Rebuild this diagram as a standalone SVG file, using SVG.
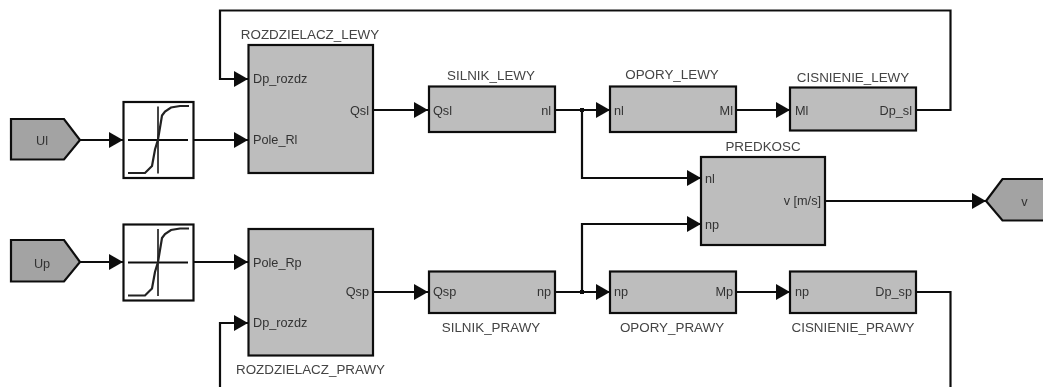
<svg xmlns="http://www.w3.org/2000/svg" width="1043" height="387" viewBox="0 0 1043 387">
<defs>
<filter id="s" filterUnits="userSpaceOnUse" x="0" y="0" width="1043" height="387"><feGaussianBlur stdDeviation="0.3"/></filter>
<marker id="a" markerUnits="userSpaceOnUse" markerWidth="14" markerHeight="16" refX="14" refY="8" orient="auto"><path d="M0 0L14 8L0 16Z" fill="#111"/></marker>
<g id="sat"><rect x="0.5" y="0.5" width="70" height="76" fill="#fff" stroke="#111" stroke-width="2.200"/><path d="M5 38.500H65" fill="none" stroke="#111" stroke-width="2.200"/><path d="M35 5V72" fill="none" stroke="#444" stroke-width="2"/><path d="M5 71.500H22L29 64.500L32 48L35 38L39 14L42 10L48 6L57 4.500H66" fill="none" stroke="#222" stroke-width="2.200"/></g>
</defs>
<style>
text{font-family:"Liberation Sans",Arial,sans-serif;font-size:12.700px;fill:#333}
.t{font-size:13.400px;fill:#444}
.m{text-anchor:middle}.e{text-anchor:end}
.b{fill:#bdbdbd;stroke:#111;stroke-width:2.200}
.p{fill:#a3a3a3;stroke:#111;stroke-width:2.200}
.c{fill:none;stroke:#111;stroke-width:2.200}
</style>
<rect width="1043" height="387" fill="#fff"/>
<g id="diagram" filter="url(#s)">
<g id="connectors">
<path class="c" d="M80 140H123" marker-end="url(#a)"/>
<path class="c" d="M193 140H248" marker-end="url(#a)"/>
<path class="c" d="M80 262H123" marker-end="url(#a)"/>
<path class="c" d="M193 262H248" marker-end="url(#a)"/>
<path class="c" d="M373 110H428" marker-end="url(#a)"/>
<path class="c" d="M373 292H428" marker-end="url(#a)"/>
<path class="c" d="M555 110H610" marker-end="url(#a)"/>
<path class="c" d="M555 292H610" marker-end="url(#a)"/>
<path class="c" d="M736 110H790" marker-end="url(#a)"/>
<path class="c" d="M736 292H790" marker-end="url(#a)"/>
<path class="c" d="M582 110V178H701" marker-end="url(#a)"/>
<path class="c" d="M582 292V224H701" marker-end="url(#a)"/>
<path class="c" d="M825 201H986" marker-end="url(#a)"/>
<path class="c" d="M916 110H950.500V10.500H220V79H248" marker-end="url(#a)"/>
<path class="c" d="M916 292H950.500V387"/>
<path class="c" d="M220 387V323H248" marker-end="url(#a)"/>
<rect x="580" y="108" width="4" height="4" fill="#111"/>
<rect x="580" y="290" width="4" height="4" fill="#111"/>
</g>
<g id="Ul"><path class="p" d="M11 119H64L80 140L64 159.500H11Z"/><text class="m" x="42" y="145">Ul</text></g>
<g id="Up"><path class="p" d="M11 240H64L80 262L64 281.500H11Z"/><text class="m" x="42" y="268">Up</text></g>
<g id="sat1"><use href="#sat" x="123" y="101.500"/></g>
<g id="sat2"><use href="#sat" x="123" y="224"/></g>
<g id="rozdzielacz_lewy"><rect class="b" x="248.500" y="45" width="124.500" height="128"/><text class="m t" x="310" y="39">ROZDZIELACZ_LEWY</text><text x="253" y="83">Dp_rozdz</text><text x="253" y="144">Pole_Rl</text><text class="e" x="369" y="115">Qsl</text></g>
<g id="rozdzielacz_prawy"><rect class="b" x="248.500" y="229" width="124.500" height="126.500"/><text class="m t" x="310.500" y="374">ROZDZIELACZ_PRAWY</text><text x="253" y="267">Pole_Rp</text><text x="253" y="327">Dp_rozdz</text><text class="e" x="369" y="296">Qsp</text></g>
<g id="silnik_lewy"><rect class="b" x="429" y="86.500" width="126" height="45.500"/><text class="m t" x="491" y="80">SILNIK_LEWY</text><text x="433" y="115">Qsl</text><text class="e" x="551" y="115">nl</text></g>
<g id="opory_lewy"><rect class="b" x="610" y="86.500" width="126" height="45.500"/><text class="m t" x="672" y="79">OPORY_LEWY</text><text x="614" y="115">nl</text><text class="e" x="733" y="115">Ml</text></g>
<g id="cisnienie_lewy"><rect class="b" x="790" y="87.500" width="126" height="43"/><text class="m t" x="853" y="82">CISNIENIE_LEWY</text><text x="795" y="115">Ml</text><text class="e" x="912" y="115">Dp_sl</text></g>
<g id="predkosc"><rect class="b" x="701" y="157" width="124" height="88"/><text class="m t" x="763" y="151">PREDKOSC</text><text x="705" y="183">nl</text><text x="705" y="229">np</text><text class="e" x="821" y="205">v [m/s]</text></g>
<g id="silnik_prawy"><rect class="b" x="429" y="271.500" width="126" height="41.500"/><text class="m t" x="491" y="332">SILNIK_PRAWY</text><text x="433" y="296">Qsp</text><text class="e" x="551" y="296">np</text></g>
<g id="opory_prawy"><rect class="b" x="610" y="271.500" width="126" height="41.500"/><text class="m t" x="672" y="332">OPORY_PRAWY</text><text x="614" y="296">np</text><text class="e" x="733" y="296">Mp</text></g>
<g id="cisnienie_prawy"><rect class="b" x="790" y="271.500" width="126" height="41.500"/><text class="m t" x="853" y="332">CISNIENIE_PRAWY</text><text x="795" y="296">np</text><text class="e" x="912" y="296">Dp_sp</text></g>
<g id="v"><path class="p" d="M1045 179H1002.500L986 201L1002.500 220.500H1045"/><text class="m" x="1024.500" y="206">v</text></g>
</g>
</svg>
